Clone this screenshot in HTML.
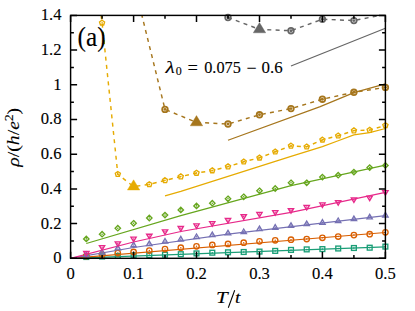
<!DOCTYPE html>
<html><head><meta charset="utf-8"><title>chart</title>
<style>
html,body{margin:0;padding:0;background:#fff;}
svg{display:block;}
text{font-family:"Liberation Serif",serif;fill:#000;stroke:#000;stroke-width:0.12px;}
</style></head>
<body>
<svg width="415" height="311" viewBox="0 0 415 311">
<rect x="0" y="0" width="415" height="311" fill="#fff"/>
<defs><clipPath id="cp"><rect x="70.6" y="15.4" width="314.8" height="242.9"/></clipPath></defs>
<g clip-path="url(#cp)">
<path d="M70.6,258.3 L385.4,246.8" fill="none" stroke="#1b9e77" stroke-width="1.2"/>
<path d="M70.6,258.3 L385.4,232.5" fill="none" stroke="#d95f02" stroke-width="1.2"/>
<path d="M70.6,258.3 L133.6,247.5 L228.0,234.2 L385.4,215.6" fill="none" stroke="#7570b3" stroke-width="1.2"/>
<path d="M70.6,258.3 L133.6,242.0 L180.8,231.5 L291.0,212.3 L385.4,192.3" fill="none" stroke="#e7298a" stroke-width="1.2"/>
<path d="M86.3,243.5 L180.8,215.6 L291.0,185.6 L385.4,165.2" fill="none" stroke="#66a61e" stroke-width="1.2"/>
<path d="M165.0,195.9 L180.8,191.4 L291.0,156.4 L322.4,146.6 L338.2,140.8 L353.9,134.9 L369.7,132.6 L385.4,128.5" fill="none" stroke="#e6ab02" stroke-width="1.2"/>
<path d="M228.0,140.3 L320.2,106.6 L353.9,92.6 L385.4,83.9" fill="none" stroke="#a6761d" stroke-width="1.2"/>
<path d="M291.0,66.0 L385.4,28.2" fill="none" stroke="#666666" stroke-width="1.2"/>
<path d="M101.1,15.4 L102.1,22.9 L117.8,174.2 L133.6,186.6 L149.3,184.4 L165.0,180.4 L180.8,176.6 L196.5,173.0 L212.3,170.6 L228.0,166.6 L243.7,161.8 L259.5,157.8 L275.2,151.8 L291.0,145.9 L306.7,146.7 L322.4,139.9 L338.2,135.7 L353.9,130.6 L369.7,130.1 L385.4,125.4" fill="none" stroke="#e6ab02" stroke-width="1.45" stroke-dasharray="4,4.3"/>
<path d="M133.6,-18.4 L165.0,109.4 L196.5,122.4 L228.0,124.0 L259.5,114.8 L291.0,108.6 L322.4,99.2 L353.9,92.3 L385.4,87.4" fill="none" stroke="#a6761d" stroke-width="1.45" stroke-dasharray="4,4.3"/>
<path d="M228.0,17.5 L259.5,29.4 L291.0,30.7 L322.4,19.2 L353.9,20.6 L385.4,14.2" fill="none" stroke="#666666" stroke-width="1.45" stroke-dasharray="4,4.3"/>
</g>
<rect x="83.9" y="254.6" width="4.8" height="4.8" fill="none" stroke="#1b9e77" stroke-width="1.35" stroke-linejoin="miter"/>
<circle cx="86.3" cy="257.0" r="0.75" fill="#1b9e77"/>
<rect x="99.7" y="254.1" width="4.8" height="4.8" fill="none" stroke="#1b9e77" stroke-width="1.35" stroke-linejoin="miter"/>
<circle cx="102.1" cy="256.5" r="0.75" fill="#1b9e77"/>
<rect x="115.4" y="253.5" width="4.8" height="4.8" fill="none" stroke="#1b9e77" stroke-width="1.35" stroke-linejoin="miter"/>
<circle cx="117.8" cy="255.9" r="0.75" fill="#1b9e77"/>
<rect x="131.2" y="253.0" width="4.8" height="4.8" fill="none" stroke="#1b9e77" stroke-width="1.35" stroke-linejoin="miter"/>
<circle cx="133.6" cy="255.4" r="0.75" fill="#1b9e77"/>
<rect x="146.9" y="252.7" width="4.8" height="4.8" fill="none" stroke="#1b9e77" stroke-width="1.35" stroke-linejoin="miter"/>
<circle cx="149.3" cy="255.1" r="0.75" fill="#1b9e77"/>
<rect x="162.6" y="252.3" width="4.8" height="4.8" fill="none" stroke="#1b9e77" stroke-width="1.35" stroke-linejoin="miter"/>
<circle cx="165.0" cy="254.7" r="0.75" fill="#1b9e77"/>
<rect x="178.4" y="251.8" width="4.8" height="4.8" fill="none" stroke="#1b9e77" stroke-width="1.35" stroke-linejoin="miter"/>
<circle cx="180.8" cy="254.2" r="0.75" fill="#1b9e77"/>
<rect x="194.1" y="251.0" width="4.8" height="4.8" fill="none" stroke="#1b9e77" stroke-width="1.35" stroke-linejoin="miter"/>
<circle cx="196.5" cy="253.4" r="0.75" fill="#1b9e77"/>
<rect x="209.9" y="250.3" width="4.8" height="4.8" fill="none" stroke="#1b9e77" stroke-width="1.35" stroke-linejoin="miter"/>
<circle cx="212.3" cy="252.7" r="0.75" fill="#1b9e77"/>
<rect x="225.6" y="249.9" width="4.8" height="4.8" fill="none" stroke="#1b9e77" stroke-width="1.35" stroke-linejoin="miter"/>
<circle cx="228.0" cy="252.3" r="0.75" fill="#1b9e77"/>
<rect x="241.3" y="249.6" width="4.8" height="4.8" fill="none" stroke="#1b9e77" stroke-width="1.35" stroke-linejoin="miter"/>
<circle cx="243.7" cy="252.0" r="0.75" fill="#1b9e77"/>
<rect x="257.1" y="249.2" width="4.8" height="4.8" fill="none" stroke="#1b9e77" stroke-width="1.35" stroke-linejoin="miter"/>
<circle cx="259.5" cy="251.6" r="0.75" fill="#1b9e77"/>
<rect x="272.8" y="248.5" width="4.8" height="4.8" fill="none" stroke="#1b9e77" stroke-width="1.35" stroke-linejoin="miter"/>
<circle cx="275.2" cy="250.9" r="0.75" fill="#1b9e77"/>
<rect x="288.6" y="247.5" width="4.8" height="4.8" fill="none" stroke="#1b9e77" stroke-width="1.35" stroke-linejoin="miter"/>
<circle cx="291.0" cy="249.9" r="0.75" fill="#1b9e77"/>
<rect x="304.3" y="247.0" width="4.8" height="4.8" fill="none" stroke="#1b9e77" stroke-width="1.35" stroke-linejoin="miter"/>
<circle cx="306.7" cy="249.4" r="0.75" fill="#1b9e77"/>
<rect x="320.0" y="246.7" width="4.8" height="4.8" fill="none" stroke="#1b9e77" stroke-width="1.35" stroke-linejoin="miter"/>
<circle cx="322.4" cy="249.1" r="0.75" fill="#1b9e77"/>
<rect x="335.8" y="246.1" width="4.8" height="4.8" fill="none" stroke="#1b9e77" stroke-width="1.35" stroke-linejoin="miter"/>
<circle cx="338.2" cy="248.5" r="0.75" fill="#1b9e77"/>
<rect x="351.5" y="245.6" width="4.8" height="4.8" fill="none" stroke="#1b9e77" stroke-width="1.35" stroke-linejoin="miter"/>
<circle cx="353.9" cy="248.0" r="0.75" fill="#1b9e77"/>
<rect x="367.3" y="245.3" width="4.8" height="4.8" fill="none" stroke="#1b9e77" stroke-width="1.35" stroke-linejoin="miter"/>
<circle cx="369.7" cy="247.7" r="0.75" fill="#1b9e77"/>
<rect x="383.0" y="244.2" width="4.8" height="4.8" fill="none" stroke="#1b9e77" stroke-width="1.35" stroke-linejoin="miter"/>
<circle cx="385.4" cy="246.6" r="0.75" fill="#1b9e77"/>
<circle cx="86.3" cy="256.1" r="2.7" fill="none" stroke="#d95f02" stroke-width="1.35" stroke-linejoin="miter"/>
<circle cx="86.3" cy="256.1" r="0.75" fill="#d95f02"/>
<circle cx="102.1" cy="254.6" r="2.7" fill="none" stroke="#d95f02" stroke-width="1.35" stroke-linejoin="miter"/>
<circle cx="102.1" cy="254.6" r="0.75" fill="#d95f02"/>
<circle cx="117.8" cy="253.0" r="2.7" fill="none" stroke="#d95f02" stroke-width="1.35" stroke-linejoin="miter"/>
<circle cx="117.8" cy="253.0" r="0.75" fill="#d95f02"/>
<circle cx="133.6" cy="251.9" r="2.7" fill="none" stroke="#d95f02" stroke-width="1.35" stroke-linejoin="miter"/>
<circle cx="133.6" cy="251.9" r="0.75" fill="#d95f02"/>
<circle cx="149.3" cy="250.6" r="2.7" fill="none" stroke="#d95f02" stroke-width="1.35" stroke-linejoin="miter"/>
<circle cx="149.3" cy="250.6" r="0.75" fill="#d95f02"/>
<circle cx="165.0" cy="249.1" r="2.7" fill="none" stroke="#d95f02" stroke-width="1.35" stroke-linejoin="miter"/>
<circle cx="165.0" cy="249.1" r="0.75" fill="#d95f02"/>
<circle cx="180.8" cy="247.7" r="2.7" fill="none" stroke="#d95f02" stroke-width="1.35" stroke-linejoin="miter"/>
<circle cx="180.8" cy="247.7" r="0.75" fill="#d95f02"/>
<circle cx="196.5" cy="246.3" r="2.7" fill="none" stroke="#d95f02" stroke-width="1.35" stroke-linejoin="miter"/>
<circle cx="196.5" cy="246.3" r="0.75" fill="#d95f02"/>
<circle cx="212.3" cy="244.9" r="2.7" fill="none" stroke="#d95f02" stroke-width="1.35" stroke-linejoin="miter"/>
<circle cx="212.3" cy="244.9" r="0.75" fill="#d95f02"/>
<circle cx="228.0" cy="243.9" r="2.7" fill="none" stroke="#d95f02" stroke-width="1.35" stroke-linejoin="miter"/>
<circle cx="228.0" cy="243.9" r="0.75" fill="#d95f02"/>
<circle cx="243.7" cy="242.7" r="2.7" fill="none" stroke="#d95f02" stroke-width="1.35" stroke-linejoin="miter"/>
<circle cx="243.7" cy="242.7" r="0.75" fill="#d95f02"/>
<circle cx="259.5" cy="241.3" r="2.7" fill="none" stroke="#d95f02" stroke-width="1.35" stroke-linejoin="miter"/>
<circle cx="259.5" cy="241.3" r="0.75" fill="#d95f02"/>
<circle cx="275.2" cy="240.3" r="2.7" fill="none" stroke="#d95f02" stroke-width="1.35" stroke-linejoin="miter"/>
<circle cx="275.2" cy="240.3" r="0.75" fill="#d95f02"/>
<circle cx="291.0" cy="239.7" r="2.7" fill="none" stroke="#d95f02" stroke-width="1.35" stroke-linejoin="miter"/>
<circle cx="291.0" cy="239.7" r="0.75" fill="#d95f02"/>
<circle cx="306.7" cy="239.0" r="2.7" fill="none" stroke="#d95f02" stroke-width="1.35" stroke-linejoin="miter"/>
<circle cx="306.7" cy="239.0" r="0.75" fill="#d95f02"/>
<circle cx="322.4" cy="237.8" r="2.7" fill="none" stroke="#d95f02" stroke-width="1.35" stroke-linejoin="miter"/>
<circle cx="322.4" cy="237.8" r="0.75" fill="#d95f02"/>
<circle cx="338.2" cy="236.5" r="2.7" fill="none" stroke="#d95f02" stroke-width="1.35" stroke-linejoin="miter"/>
<circle cx="338.2" cy="236.5" r="0.75" fill="#d95f02"/>
<circle cx="353.9" cy="235.1" r="2.7" fill="none" stroke="#d95f02" stroke-width="1.35" stroke-linejoin="miter"/>
<circle cx="353.9" cy="235.1" r="0.75" fill="#d95f02"/>
<circle cx="369.7" cy="234.2" r="2.7" fill="none" stroke="#d95f02" stroke-width="1.35" stroke-linejoin="miter"/>
<circle cx="369.7" cy="234.2" r="0.75" fill="#d95f02"/>
<circle cx="385.4" cy="232.3" r="2.7" fill="none" stroke="#d95f02" stroke-width="1.35" stroke-linejoin="miter"/>
<circle cx="385.4" cy="232.3" r="0.75" fill="#d95f02"/>
<path d="M86.3,252.1 L89.0,256.7 L83.7,256.7 Z" fill="none" stroke="#7570b3" stroke-width="1.35" stroke-linejoin="miter"/>
<circle cx="86.3" cy="254.9" r="0.75" fill="#7570b3"/>
<path d="M102.1,249.6 L104.7,254.1 L99.4,254.1 Z" fill="none" stroke="#7570b3" stroke-width="1.35" stroke-linejoin="miter"/>
<circle cx="102.1" cy="252.4" r="0.75" fill="#7570b3"/>
<path d="M117.8,245.3 L120.5,249.8 L115.2,249.8 Z" fill="none" stroke="#7570b3" stroke-width="1.35" stroke-linejoin="miter"/>
<circle cx="117.8" cy="248.1" r="0.75" fill="#7570b3"/>
<path d="M133.6,242.1 L136.2,246.7 L130.9,246.7 Z" fill="none" stroke="#7570b3" stroke-width="1.35" stroke-linejoin="miter"/>
<circle cx="133.6" cy="244.9" r="0.75" fill="#7570b3"/>
<path d="M149.3,241.1 L152.0,245.6 L146.6,245.6 Z" fill="none" stroke="#7570b3" stroke-width="1.35" stroke-linejoin="miter"/>
<circle cx="149.3" cy="243.9" r="0.75" fill="#7570b3"/>
<path d="M165.0,238.5 L167.7,243.0 L162.4,243.0 Z" fill="none" stroke="#7570b3" stroke-width="1.35" stroke-linejoin="miter"/>
<circle cx="165.0" cy="241.3" r="0.75" fill="#7570b3"/>
<path d="M180.8,236.4 L183.4,241.0 L178.1,241.0 Z" fill="none" stroke="#7570b3" stroke-width="1.35" stroke-linejoin="miter"/>
<circle cx="180.8" cy="239.2" r="0.75" fill="#7570b3"/>
<path d="M196.5,234.0 L199.2,238.5 L193.9,238.5 Z" fill="none" stroke="#7570b3" stroke-width="1.35" stroke-linejoin="miter"/>
<circle cx="196.5" cy="236.8" r="0.75" fill="#7570b3"/>
<path d="M212.3,232.1 L214.9,236.6 L209.6,236.6 Z" fill="none" stroke="#7570b3" stroke-width="1.35" stroke-linejoin="miter"/>
<circle cx="212.3" cy="234.9" r="0.75" fill="#7570b3"/>
<path d="M228.0,230.4 L230.7,234.9 L225.3,234.9 Z" fill="none" stroke="#7570b3" stroke-width="1.35" stroke-linejoin="miter"/>
<circle cx="228.0" cy="233.2" r="0.75" fill="#7570b3"/>
<path d="M243.7,229.0 L246.4,233.5 L241.1,233.5 Z" fill="none" stroke="#7570b3" stroke-width="1.35" stroke-linejoin="miter"/>
<circle cx="243.7" cy="231.8" r="0.75" fill="#7570b3"/>
<path d="M259.5,226.1 L262.1,230.6 L256.8,230.6 Z" fill="none" stroke="#7570b3" stroke-width="1.35" stroke-linejoin="miter"/>
<circle cx="259.5" cy="228.9" r="0.75" fill="#7570b3"/>
<path d="M275.2,224.7 L277.9,229.2 L272.6,229.2 Z" fill="none" stroke="#7570b3" stroke-width="1.35" stroke-linejoin="miter"/>
<circle cx="275.2" cy="227.5" r="0.75" fill="#7570b3"/>
<path d="M291.0,222.8 L293.6,227.3 L288.3,227.3 Z" fill="none" stroke="#7570b3" stroke-width="1.35" stroke-linejoin="miter"/>
<circle cx="291.0" cy="225.6" r="0.75" fill="#7570b3"/>
<path d="M306.7,221.1 L309.4,225.6 L304.0,225.6 Z" fill="none" stroke="#7570b3" stroke-width="1.35" stroke-linejoin="miter"/>
<circle cx="306.7" cy="223.9" r="0.75" fill="#7570b3"/>
<path d="M322.4,219.7 L325.1,224.2 L319.8,224.2 Z" fill="none" stroke="#7570b3" stroke-width="1.35" stroke-linejoin="miter"/>
<circle cx="322.4" cy="222.5" r="0.75" fill="#7570b3"/>
<path d="M338.2,218.0 L340.8,222.5 L335.5,222.5 Z" fill="none" stroke="#7570b3" stroke-width="1.35" stroke-linejoin="miter"/>
<circle cx="338.2" cy="220.8" r="0.75" fill="#7570b3"/>
<path d="M353.9,216.1 L356.6,220.6 L351.3,220.6 Z" fill="none" stroke="#7570b3" stroke-width="1.35" stroke-linejoin="miter"/>
<circle cx="353.9" cy="218.9" r="0.75" fill="#7570b3"/>
<path d="M369.7,214.3 L372.3,218.9 L367.0,218.9 Z" fill="none" stroke="#7570b3" stroke-width="1.35" stroke-linejoin="miter"/>
<circle cx="369.7" cy="217.1" r="0.75" fill="#7570b3"/>
<path d="M385.4,212.4 L388.1,217.0 L382.7,217.0 Z" fill="none" stroke="#7570b3" stroke-width="1.35" stroke-linejoin="miter"/>
<circle cx="385.4" cy="215.2" r="0.75" fill="#7570b3"/>
<path d="M86.3,255.8 L89.0,251.3 L83.7,251.3 Z" fill="none" stroke="#e7298a" stroke-width="1.35" stroke-linejoin="miter"/>
<circle cx="86.3" cy="253.0" r="0.75" fill="#e7298a"/>
<path d="M102.1,250.1 L104.7,245.6 L99.4,245.6 Z" fill="none" stroke="#e7298a" stroke-width="1.35" stroke-linejoin="miter"/>
<circle cx="102.1" cy="247.3" r="0.75" fill="#e7298a"/>
<path d="M117.8,246.3 L120.5,241.8 L115.2,241.8 Z" fill="none" stroke="#e7298a" stroke-width="1.35" stroke-linejoin="miter"/>
<circle cx="117.8" cy="243.5" r="0.75" fill="#e7298a"/>
<path d="M133.6,241.7 L136.2,237.1 L130.9,237.1 Z" fill="none" stroke="#e7298a" stroke-width="1.35" stroke-linejoin="miter"/>
<circle cx="133.6" cy="238.9" r="0.75" fill="#e7298a"/>
<path d="M149.3,238.7 L152.0,234.2 L146.6,234.2 Z" fill="none" stroke="#e7298a" stroke-width="1.35" stroke-linejoin="miter"/>
<circle cx="149.3" cy="235.9" r="0.75" fill="#e7298a"/>
<path d="M165.0,234.4 L167.7,229.8 L162.4,229.8 Z" fill="none" stroke="#e7298a" stroke-width="1.35" stroke-linejoin="miter"/>
<circle cx="165.0" cy="231.6" r="0.75" fill="#e7298a"/>
<path d="M180.8,231.1 L183.4,226.5 L178.1,226.5 Z" fill="none" stroke="#e7298a" stroke-width="1.35" stroke-linejoin="miter"/>
<circle cx="180.8" cy="228.3" r="0.75" fill="#e7298a"/>
<path d="M196.5,228.3 L199.2,223.8 L193.9,223.8 Z" fill="none" stroke="#e7298a" stroke-width="1.35" stroke-linejoin="miter"/>
<circle cx="196.5" cy="225.5" r="0.75" fill="#e7298a"/>
<path d="M212.3,226.1 L214.9,221.6 L209.6,221.6 Z" fill="none" stroke="#e7298a" stroke-width="1.35" stroke-linejoin="miter"/>
<circle cx="212.3" cy="223.3" r="0.75" fill="#e7298a"/>
<path d="M228.0,222.9 L230.7,218.3 L225.3,218.3 Z" fill="none" stroke="#e7298a" stroke-width="1.35" stroke-linejoin="miter"/>
<circle cx="228.0" cy="220.1" r="0.75" fill="#e7298a"/>
<path d="M243.7,219.3 L246.4,214.7 L241.1,214.7 Z" fill="none" stroke="#e7298a" stroke-width="1.35" stroke-linejoin="miter"/>
<circle cx="243.7" cy="216.5" r="0.75" fill="#e7298a"/>
<path d="M259.5,216.8 L262.1,212.3 L256.8,212.3 Z" fill="none" stroke="#e7298a" stroke-width="1.35" stroke-linejoin="miter"/>
<circle cx="259.5" cy="214.0" r="0.75" fill="#e7298a"/>
<path d="M275.2,215.1 L277.9,210.6 L272.6,210.6 Z" fill="none" stroke="#e7298a" stroke-width="1.35" stroke-linejoin="miter"/>
<circle cx="275.2" cy="212.3" r="0.75" fill="#e7298a"/>
<path d="M291.0,213.2 L293.6,208.7 L288.3,208.7 Z" fill="none" stroke="#e7298a" stroke-width="1.35" stroke-linejoin="miter"/>
<circle cx="291.0" cy="210.4" r="0.75" fill="#e7298a"/>
<path d="M306.7,209.9 L309.4,205.4 L304.0,205.4 Z" fill="none" stroke="#e7298a" stroke-width="1.35" stroke-linejoin="miter"/>
<circle cx="306.7" cy="207.1" r="0.75" fill="#e7298a"/>
<path d="M322.4,207.3 L325.1,202.8 L319.8,202.8 Z" fill="none" stroke="#e7298a" stroke-width="1.35" stroke-linejoin="miter"/>
<circle cx="322.4" cy="204.5" r="0.75" fill="#e7298a"/>
<path d="M338.2,205.1 L340.8,200.6 L335.5,200.6 Z" fill="none" stroke="#e7298a" stroke-width="1.35" stroke-linejoin="miter"/>
<circle cx="338.2" cy="202.3" r="0.75" fill="#e7298a"/>
<path d="M353.9,202.3 L356.6,197.8 L351.3,197.8 Z" fill="none" stroke="#e7298a" stroke-width="1.35" stroke-linejoin="miter"/>
<circle cx="353.9" cy="199.5" r="0.75" fill="#e7298a"/>
<path d="M369.7,200.6 L372.3,196.1 L367.0,196.1 Z" fill="none" stroke="#e7298a" stroke-width="1.35" stroke-linejoin="miter"/>
<circle cx="369.7" cy="197.8" r="0.75" fill="#e7298a"/>
<path d="M385.4,195.1 L388.1,190.6 L382.7,190.6 Z" fill="none" stroke="#e7298a" stroke-width="1.35" stroke-linejoin="miter"/>
<circle cx="385.4" cy="192.3" r="0.75" fill="#e7298a"/>
<path d="M86.3,236.2 L89.0,238.9 L86.3,241.6 L83.6,238.9 Z" fill="none" stroke="#66a61e" stroke-width="1.35" stroke-linejoin="miter"/>
<circle cx="86.3" cy="238.9" r="0.8" fill="#66a61e"/>
<path d="M102.1,231.5 L104.8,234.2 L102.1,236.9 L99.4,234.2 Z" fill="none" stroke="#66a61e" stroke-width="1.35" stroke-linejoin="miter"/>
<circle cx="102.1" cy="234.2" r="0.8" fill="#66a61e"/>
<path d="M117.8,225.5 L120.5,228.2 L117.8,230.9 L115.1,228.2 Z" fill="none" stroke="#66a61e" stroke-width="1.35" stroke-linejoin="miter"/>
<circle cx="117.8" cy="228.2" r="0.8" fill="#66a61e"/>
<path d="M133.6,220.6 L136.3,223.3 L133.6,226.0 L130.9,223.3 Z" fill="none" stroke="#66a61e" stroke-width="1.35" stroke-linejoin="miter"/>
<circle cx="133.6" cy="223.3" r="0.8" fill="#66a61e"/>
<path d="M149.3,215.3 L152.0,218.0 L149.3,220.7 L146.6,218.0 Z" fill="none" stroke="#66a61e" stroke-width="1.35" stroke-linejoin="miter"/>
<circle cx="149.3" cy="218.0" r="0.8" fill="#66a61e"/>
<path d="M165.0,212.4 L167.7,215.1 L165.0,217.8 L162.3,215.1 Z" fill="none" stroke="#66a61e" stroke-width="1.35" stroke-linejoin="miter"/>
<circle cx="165.0" cy="215.1" r="0.8" fill="#66a61e"/>
<path d="M180.8,207.2 L183.5,209.9 L180.8,212.6 L178.1,209.9 Z" fill="none" stroke="#66a61e" stroke-width="1.35" stroke-linejoin="miter"/>
<circle cx="180.8" cy="209.9" r="0.8" fill="#66a61e"/>
<path d="M196.5,203.2 L199.2,205.9 L196.5,208.6 L193.8,205.9 Z" fill="none" stroke="#66a61e" stroke-width="1.35" stroke-linejoin="miter"/>
<circle cx="196.5" cy="205.9" r="0.8" fill="#66a61e"/>
<path d="M212.3,200.5 L215.0,203.2 L212.3,205.9 L209.6,203.2 Z" fill="none" stroke="#66a61e" stroke-width="1.35" stroke-linejoin="miter"/>
<circle cx="212.3" cy="203.2" r="0.8" fill="#66a61e"/>
<path d="M228.0,196.1 L230.7,198.8 L228.0,201.5 L225.3,198.8 Z" fill="none" stroke="#66a61e" stroke-width="1.35" stroke-linejoin="miter"/>
<circle cx="228.0" cy="198.8" r="0.8" fill="#66a61e"/>
<path d="M243.7,194.1 L246.4,196.8 L243.7,199.5 L241.0,196.8 Z" fill="none" stroke="#66a61e" stroke-width="1.35" stroke-linejoin="miter"/>
<circle cx="243.7" cy="196.8" r="0.8" fill="#66a61e"/>
<path d="M259.5,188.1 L262.2,190.8 L259.5,193.5 L256.8,190.8 Z" fill="none" stroke="#66a61e" stroke-width="1.35" stroke-linejoin="miter"/>
<circle cx="259.5" cy="190.8" r="0.8" fill="#66a61e"/>
<path d="M275.2,185.8 L277.9,188.5 L275.2,191.2 L272.5,188.5 Z" fill="none" stroke="#66a61e" stroke-width="1.35" stroke-linejoin="miter"/>
<circle cx="275.2" cy="188.5" r="0.8" fill="#66a61e"/>
<path d="M291.0,180.1 L293.7,182.8 L291.0,185.5 L288.3,182.8 Z" fill="none" stroke="#66a61e" stroke-width="1.35" stroke-linejoin="miter"/>
<circle cx="291.0" cy="182.8" r="0.8" fill="#66a61e"/>
<path d="M306.7,180.1 L309.4,182.8 L306.7,185.5 L304.0,182.8 Z" fill="none" stroke="#66a61e" stroke-width="1.35" stroke-linejoin="miter"/>
<circle cx="306.7" cy="182.8" r="0.8" fill="#66a61e"/>
<path d="M322.4,174.4 L325.1,177.1 L322.4,179.8 L319.7,177.1 Z" fill="none" stroke="#66a61e" stroke-width="1.35" stroke-linejoin="miter"/>
<circle cx="322.4" cy="177.1" r="0.8" fill="#66a61e"/>
<path d="M338.2,172.5 L340.9,175.2 L338.2,177.9 L335.5,175.2 Z" fill="none" stroke="#66a61e" stroke-width="1.35" stroke-linejoin="miter"/>
<circle cx="338.2" cy="175.2" r="0.8" fill="#66a61e"/>
<path d="M353.9,169.4 L356.6,172.1 L353.9,174.8 L351.2,172.1 Z" fill="none" stroke="#66a61e" stroke-width="1.35" stroke-linejoin="miter"/>
<circle cx="353.9" cy="172.1" r="0.8" fill="#66a61e"/>
<path d="M369.7,164.9 L372.4,167.6 L369.7,170.3 L367.0,167.6 Z" fill="none" stroke="#66a61e" stroke-width="1.35" stroke-linejoin="miter"/>
<circle cx="369.7" cy="167.6" r="0.8" fill="#66a61e"/>
<path d="M385.4,162.7 L388.1,165.4 L385.4,168.1 L382.7,165.4 Z" fill="none" stroke="#66a61e" stroke-width="1.35" stroke-linejoin="miter"/>
<circle cx="385.4" cy="165.4" r="0.8" fill="#66a61e"/>
<path d="M102.1,20.2 L104.6,22.0 L103.7,25.0 L100.5,25.0 L99.5,22.0 Z" fill="none" stroke="#e6ab02" stroke-width="1.35" stroke-linejoin="miter"/>
<circle cx="102.1" cy="22.9" r="0.8" fill="#e6ab02"/>
<path d="M117.8,171.5 L120.4,173.3 L119.4,176.3 L116.2,176.3 L115.3,173.3 Z" fill="none" stroke="#e6ab02" stroke-width="1.35" stroke-linejoin="miter"/>
<circle cx="117.8" cy="174.2" r="0.8" fill="#e6ab02"/>
<path d="M133.6,179.8 L139.8,190.0 L127.4,190.0 Z" fill="#e6ab02" stroke="#e6ab02" stroke-width="0.4"/>
<path d="M149.3,181.7 L151.9,183.5 L150.9,186.5 L147.7,186.5 L146.7,183.5 Z" fill="none" stroke="#e6ab02" stroke-width="1.35" stroke-linejoin="miter"/>
<circle cx="149.3" cy="184.4" r="0.8" fill="#e6ab02"/>
<path d="M165.0,177.7 L167.6,179.6 L166.6,182.6 L163.5,182.6 L162.5,179.6 Z" fill="none" stroke="#e6ab02" stroke-width="1.35" stroke-linejoin="miter"/>
<circle cx="165.0" cy="180.4" r="0.8" fill="#e6ab02"/>
<path d="M180.8,173.9 L183.3,175.8 L182.4,178.8 L179.2,178.8 L178.2,175.8 Z" fill="none" stroke="#e6ab02" stroke-width="1.35" stroke-linejoin="miter"/>
<circle cx="180.8" cy="176.6" r="0.8" fill="#e6ab02"/>
<path d="M196.5,170.3 L199.1,172.1 L198.1,175.2 L194.9,175.2 L194.0,172.1 Z" fill="none" stroke="#e6ab02" stroke-width="1.35" stroke-linejoin="miter"/>
<circle cx="196.5" cy="173.0" r="0.8" fill="#e6ab02"/>
<path d="M212.3,167.9 L214.8,169.7 L213.8,172.7 L210.7,172.7 L209.7,169.7 Z" fill="none" stroke="#e6ab02" stroke-width="1.35" stroke-linejoin="miter"/>
<circle cx="212.3" cy="170.6" r="0.8" fill="#e6ab02"/>
<path d="M228.0,163.9 L230.6,165.8 L229.6,168.8 L226.4,168.8 L225.4,165.8 Z" fill="none" stroke="#e6ab02" stroke-width="1.35" stroke-linejoin="miter"/>
<circle cx="228.0" cy="166.6" r="0.8" fill="#e6ab02"/>
<path d="M243.7,159.1 L246.3,160.9 L245.3,163.9 L242.2,163.9 L241.2,160.9 Z" fill="none" stroke="#e6ab02" stroke-width="1.35" stroke-linejoin="miter"/>
<circle cx="243.7" cy="161.8" r="0.8" fill="#e6ab02"/>
<path d="M259.5,155.1 L262.0,157.0 L261.1,160.0 L257.9,160.0 L256.9,157.0 Z" fill="none" stroke="#e6ab02" stroke-width="1.35" stroke-linejoin="miter"/>
<circle cx="259.5" cy="157.8" r="0.8" fill="#e6ab02"/>
<path d="M275.2,149.1 L277.8,150.9 L276.8,153.9 L273.6,153.9 L272.7,150.9 Z" fill="none" stroke="#e6ab02" stroke-width="1.35" stroke-linejoin="miter"/>
<circle cx="275.2" cy="151.8" r="0.8" fill="#e6ab02"/>
<path d="M291.0,143.2 L293.5,145.0 L292.5,148.1 L289.4,148.1 L288.4,145.0 Z" fill="none" stroke="#e6ab02" stroke-width="1.35" stroke-linejoin="miter"/>
<circle cx="291.0" cy="145.9" r="0.8" fill="#e6ab02"/>
<path d="M306.7,144.0 L309.3,145.9 L308.3,148.9 L305.1,148.9 L304.1,145.9 Z" fill="none" stroke="#e6ab02" stroke-width="1.35" stroke-linejoin="miter"/>
<circle cx="306.7" cy="146.7" r="0.8" fill="#e6ab02"/>
<path d="M322.4,137.2 L325.0,139.0 L324.0,142.0 L320.9,142.0 L319.9,139.0 Z" fill="none" stroke="#e6ab02" stroke-width="1.35" stroke-linejoin="miter"/>
<circle cx="322.4" cy="139.9" r="0.8" fill="#e6ab02"/>
<path d="M338.2,133.0 L340.7,134.9 L339.8,137.9 L336.6,137.9 L335.6,134.9 Z" fill="none" stroke="#e6ab02" stroke-width="1.35" stroke-linejoin="miter"/>
<circle cx="338.2" cy="135.7" r="0.8" fill="#e6ab02"/>
<path d="M353.9,127.9 L356.5,129.8 L355.5,132.8 L352.3,132.8 L351.4,129.8 Z" fill="none" stroke="#e6ab02" stroke-width="1.35" stroke-linejoin="miter"/>
<circle cx="353.9" cy="130.6" r="0.8" fill="#e6ab02"/>
<path d="M369.7,127.4 L372.2,129.2 L371.2,132.3 L368.1,132.3 L367.1,129.2 Z" fill="none" stroke="#e6ab02" stroke-width="1.35" stroke-linejoin="miter"/>
<circle cx="369.7" cy="130.1" r="0.8" fill="#e6ab02"/>
<path d="M385.4,122.7 L388.0,124.5 L387.0,127.5 L383.8,127.5 L382.8,124.5 Z" fill="none" stroke="#e6ab02" stroke-width="1.35" stroke-linejoin="miter"/>
<circle cx="385.4" cy="125.4" r="0.8" fill="#e6ab02"/>
<circle cx="165.0" cy="109.4" r="2.8" fill="none" stroke="#a6761d" stroke-width="1.8"/>
<circle cx="165.0" cy="109.4" r="1.45" fill="#a6761d"/>
<path d="M196.5,115.6 L202.7,125.8 L190.3,125.8 Z" fill="#a6761d" stroke="#a6761d" stroke-width="0.4"/>
<circle cx="228.0" cy="124.0" r="2.8" fill="none" stroke="#a6761d" stroke-width="1.8"/>
<circle cx="228.0" cy="124.0" r="1.45" fill="#a6761d"/>
<circle cx="259.5" cy="114.8" r="2.8" fill="none" stroke="#a6761d" stroke-width="1.8"/>
<circle cx="259.5" cy="114.8" r="1.45" fill="#a6761d"/>
<circle cx="291.0" cy="108.6" r="2.8" fill="none" stroke="#a6761d" stroke-width="1.8"/>
<circle cx="291.0" cy="108.6" r="1.45" fill="#a6761d"/>
<circle cx="322.4" cy="99.2" r="2.8" fill="none" stroke="#a6761d" stroke-width="1.8"/>
<circle cx="322.4" cy="99.2" r="1.45" fill="#a6761d"/>
<circle cx="353.9" cy="92.3" r="2.8" fill="none" stroke="#a6761d" stroke-width="1.8"/>
<circle cx="353.9" cy="92.3" r="1.45" fill="#a6761d"/>
<circle cx="385.4" cy="87.4" r="2.8" fill="none" stroke="#a6761d" stroke-width="1.8"/>
<circle cx="385.4" cy="87.4" r="1.45" fill="#a6761d"/>
<circle cx="228.0" cy="17.5" r="2.8" fill="none" stroke="#666666" stroke-width="1.8"/>
<circle cx="228.0" cy="17.5" r="1.45" fill="#666666"/>
<path d="M259.5,22.6 L265.7,32.8 L253.3,32.8 Z" fill="#666666" stroke="#666666" stroke-width="0.4"/>
<circle cx="291.0" cy="30.7" r="2.8" fill="none" stroke="#666666" stroke-width="1.8"/>
<circle cx="291.0" cy="30.7" r="1.45" fill="#666666"/>
<circle cx="322.4" cy="19.2" r="2.8" fill="none" stroke="#666666" stroke-width="1.8"/>
<circle cx="322.4" cy="19.2" r="1.45" fill="#666666"/>
<circle cx="353.9" cy="20.6" r="2.8" fill="none" stroke="#666666" stroke-width="1.8"/>
<circle cx="353.9" cy="20.6" r="1.45" fill="#666666"/>
<rect x="70.6" y="15.4" width="314.79999999999995" height="242.9" fill="none" stroke="#000" stroke-width="1.45"/>
<path d="M70.6,258.3 v-6.5 M70.6,15.4 v6.5" stroke="#000" stroke-width="1.5"/>
<path d="M102.1,258.3 v-3.3 M102.1,15.4 v3.3" stroke="#000" stroke-width="1.5"/>
<path d="M133.6,258.3 v-6.5 M133.6,15.4 v6.5" stroke="#000" stroke-width="1.5"/>
<path d="M165.0,258.3 v-3.3 M165.0,15.4 v3.3" stroke="#000" stroke-width="1.5"/>
<path d="M196.5,258.3 v-6.5 M196.5,15.4 v6.5" stroke="#000" stroke-width="1.5"/>
<path d="M228.0,258.3 v-3.3 M228.0,15.4 v3.3" stroke="#000" stroke-width="1.5"/>
<path d="M259.5,258.3 v-6.5 M259.5,15.4 v6.5" stroke="#000" stroke-width="1.5"/>
<path d="M291.0,258.3 v-3.3 M291.0,15.4 v3.3" stroke="#000" stroke-width="1.5"/>
<path d="M322.4,258.3 v-6.5 M322.4,15.4 v6.5" stroke="#000" stroke-width="1.5"/>
<path d="M353.9,258.3 v-3.3 M353.9,15.4 v3.3" stroke="#000" stroke-width="1.5"/>
<path d="M385.4,258.3 v-6.5 M385.4,15.4 v6.5" stroke="#000" stroke-width="1.5"/>
<path d="M70.6,258.3 h6.5 M385.4,258.3 h-6.5" stroke="#000" stroke-width="1.5"/>
<path d="M70.6,241.0 h3.3 M385.4,241.0 h-3.3" stroke="#000" stroke-width="1.5"/>
<path d="M70.6,223.6 h6.5 M385.4,223.6 h-6.5" stroke="#000" stroke-width="1.5"/>
<path d="M70.6,206.2 h3.3 M385.4,206.2 h-3.3" stroke="#000" stroke-width="1.5"/>
<path d="M70.6,188.9 h6.5 M385.4,188.9 h-6.5" stroke="#000" stroke-width="1.5"/>
<path d="M70.6,171.6 h3.3 M385.4,171.6 h-3.3" stroke="#000" stroke-width="1.5"/>
<path d="M70.6,154.2 h6.5 M385.4,154.2 h-6.5" stroke="#000" stroke-width="1.5"/>
<path d="M70.6,136.8 h3.3 M385.4,136.8 h-3.3" stroke="#000" stroke-width="1.5"/>
<path d="M70.6,119.5 h6.5 M385.4,119.5 h-6.5" stroke="#000" stroke-width="1.5"/>
<path d="M70.6,102.2 h3.3 M385.4,102.2 h-3.3" stroke="#000" stroke-width="1.5"/>
<path d="M70.6,84.8 h6.5 M385.4,84.8 h-6.5" stroke="#000" stroke-width="1.5"/>
<path d="M70.6,67.4 h3.3 M385.4,67.4 h-3.3" stroke="#000" stroke-width="1.5"/>
<path d="M70.6,50.1 h6.5 M385.4,50.1 h-6.5" stroke="#000" stroke-width="1.5"/>
<path d="M70.6,32.7 h3.3 M385.4,32.7 h-3.3" stroke="#000" stroke-width="1.5"/>
<path d="M70.6,15.4 h6.5 M385.4,15.4 h-6.5" stroke="#000" stroke-width="1.5"/>
<text x="70.6" y="278.6" text-anchor="middle" font-size="16.6">0</text>
<text x="133.6" y="278.6" text-anchor="middle" font-size="16.6">0.1</text>
<text x="196.5" y="278.6" text-anchor="middle" font-size="16.6">0.2</text>
<text x="259.5" y="278.6" text-anchor="middle" font-size="16.6">0.3</text>
<text x="322.4" y="278.6" text-anchor="middle" font-size="16.6">0.4</text>
<text x="385.4" y="278.6" text-anchor="middle" font-size="16.6">0.5</text>
<text x="61.5" y="263.2" text-anchor="end" font-size="16.6">0</text>
<text x="61.5" y="228.5" text-anchor="end" font-size="16.6">0.2</text>
<text x="61.5" y="193.8" text-anchor="end" font-size="16.6">0.4</text>
<text x="61.5" y="159.1" text-anchor="end" font-size="16.6">0.6</text>
<text x="61.5" y="124.4" text-anchor="end" font-size="16.6">0.8</text>
<text x="61.5" y="89.7" text-anchor="end" font-size="16.6">1</text>
<text x="61.5" y="55.0" text-anchor="end" font-size="16.6">1.2</text>
<text x="61.5" y="20.3" text-anchor="end" font-size="16.6">1.4</text>
<text transform="translate(77.6,46.4) scale(1.03,1.12)" font-size="24.5">(a)</text>
<text transform="translate(165.6,72.7) scale(1.22,1)" font-size="17.5" font-style="italic">λ</text>
<text x="175.8" y="75.2" font-size="12">0</text>
<text x="187.4" y="74.2" font-size="18.5">=</text>
<text x="204.2" y="72.7" font-size="16.9" textLength="36.6" lengthAdjust="spacingAndGlyphs">0.075</text>
<text x="246.4" y="74.2" font-size="18">−</text>
<text x="261.5" y="72.7" font-size="16.9" textLength="21.1" lengthAdjust="spacingAndGlyphs">0.6</text>
<text transform="translate(216.0,303.3) scale(1.3,1)" font-size="16.2" font-style="italic">T</text>
<path d="M228.3,307.8 L234.7,290.2" stroke="#000" stroke-width="1.05" fill="none"/>
<text transform="translate(235.0,303.3) scale(1.2,1)" font-size="16.2" font-style="italic">t</text>
<text transform="translate(19.2,137.3) rotate(-90) scale(1.14,1)" text-anchor="middle" font-size="17.3"><tspan font-style="italic">ρ</tspan>/(<tspan font-style="italic">h</tspan>/<tspan font-style="italic">e</tspan><tspan font-size="11.5" dy="-6">2</tspan><tspan dy="6">)</tspan></text>
</svg>
</body></html>
